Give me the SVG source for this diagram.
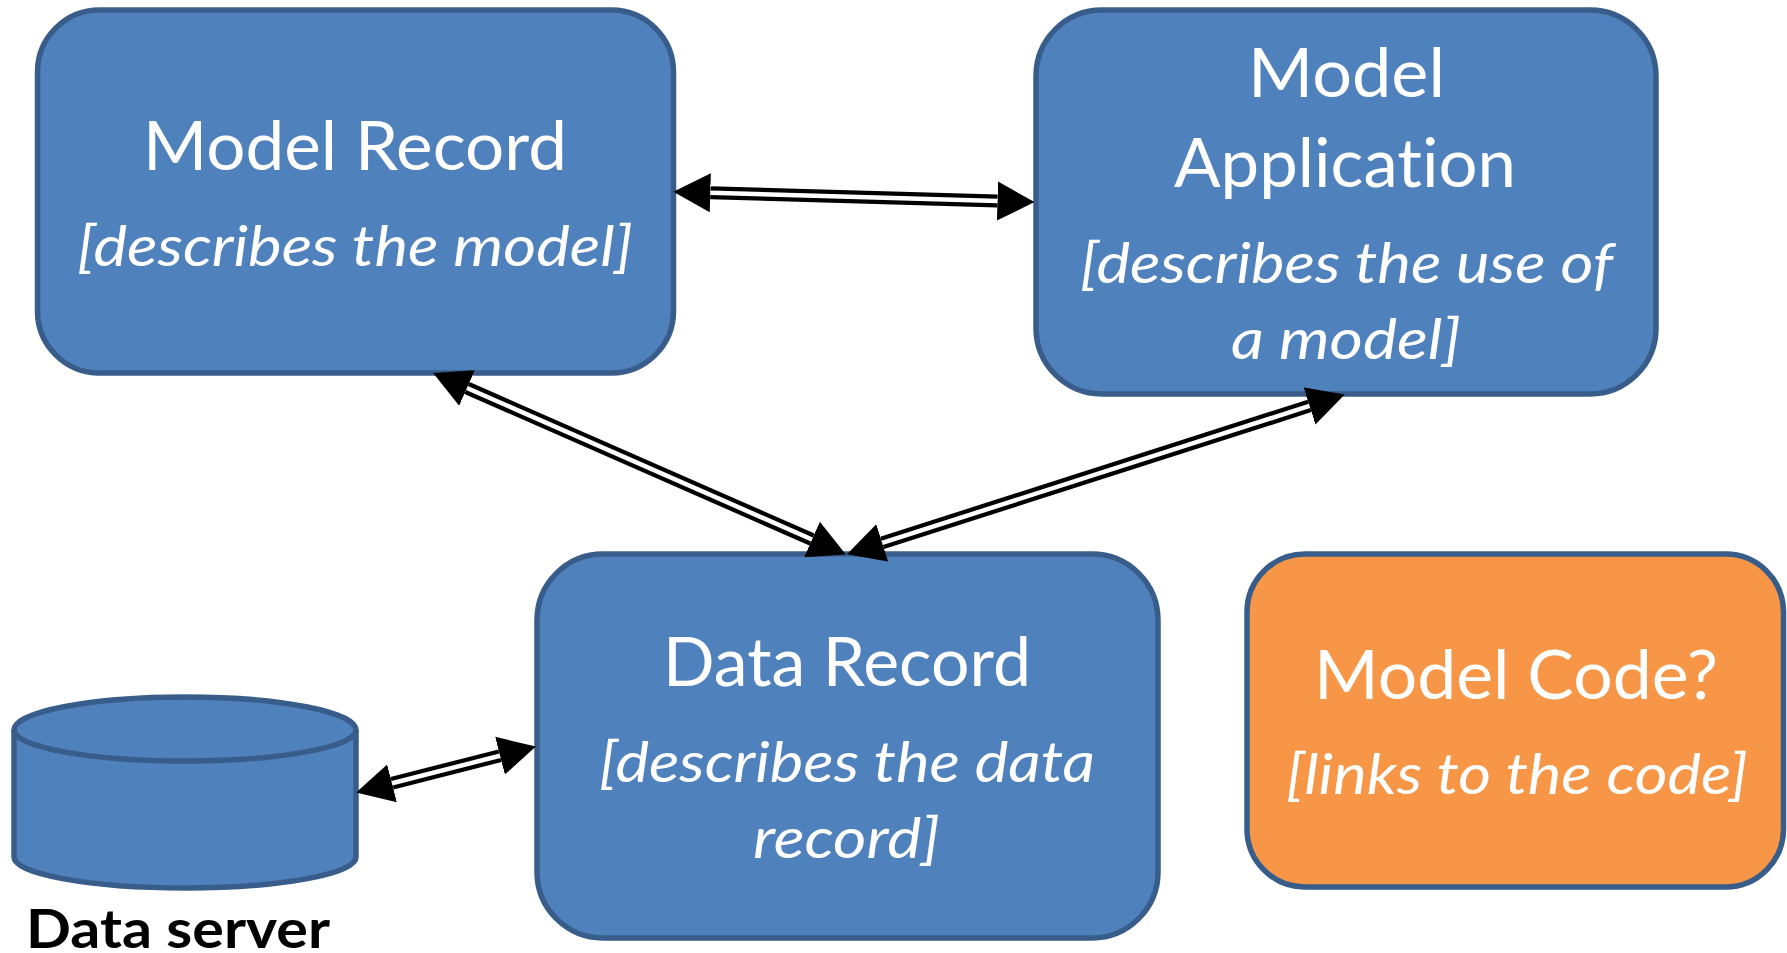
<svg xmlns="http://www.w3.org/2000/svg" width="1787" height="953" viewBox="0 0 1787 953">
<style>
.box{fill:#4F81BD;stroke:#385D8A;stroke-width:5.5}
.orange{fill:#F79646}
text{font-family:"Lato","Open Sans","Liberation Sans",sans-serif;fill:#fff;text-anchor:start;font-variant-ligatures:none}
.t{font-size:67px}
.s{font-size:57px;font-style:italic}
.b{font-size:54px;font-weight:700;fill:#000}
.o{fill:none;stroke:#000;stroke-width:13;marker-start:url(#h);marker-end:url(#h)}
.i{fill:none;stroke:#fff;stroke-width:4.5}
</style>
<defs>
<marker id="h" markerUnits="userSpaceOnUse" markerWidth="40" markerHeight="40" viewBox="0 -20 40 40" refX="0" refY="0" orient="auto-start-reverse"><path d="M0,-19.5L37,0L0,19.5Z" fill="#000"/></marker>
</defs>
<rect width="1787" height="953" fill="#fff"/>
<g id="model-record">
<rect class="box" x="37.5" y="10" width="636" height="363" rx="62" ry="62"/>
<text class="t" x="143" y="170" textLength="424" lengthAdjust="spacingAndGlyphs">Model Record</text>
<text class="s" x="77" y="266" textLength="556" lengthAdjust="spacingAndGlyphs">[describes the model]</text>
</g>
<g id="model-application">
<rect class="box" x="1036" y="10" width="620" height="384" rx="66" ry="66"/>
<text class="t" x="1248" y="97" textLength="197" lengthAdjust="spacingAndGlyphs">Model</text>
<text class="t" x="1174" y="187" textLength="342" lengthAdjust="spacingAndGlyphs">Application</text>
<text class="s" x="1080" y="283" textLength="533" lengthAdjust="spacingAndGlyphs">[describes the use of</text>
<text class="s" x="1231" y="359" textLength="230" lengthAdjust="spacingAndGlyphs">a model]</text>
</g>
<g id="data-record">
<rect class="box" x="537" y="554" width="621" height="384" rx="66" ry="66"/>
<text class="t" x="663" y="686" textLength="368" lengthAdjust="spacingAndGlyphs">Data Record</text>
<text class="s" x="599" y="782" textLength="496" lengthAdjust="spacingAndGlyphs">[describes the data</text>
<text class="s" x="753" y="858" textLength="187" lengthAdjust="spacingAndGlyphs">record]</text>
</g>
<g id="model-code">
<rect class="box orange" x="1247" y="554" width="536.5" height="333" rx="58" ry="58"/>
<text class="t" x="1314" y="699" textLength="404" lengthAdjust="spacingAndGlyphs">Model Code?</text>
<text class="s" x="1286" y="794" textLength="462" lengthAdjust="spacingAndGlyphs">[links to the code]</text>
</g>
<g id="data-server">
<path class="box" d="M14,730C14,712 90,697 185,697C280,697 356,712 356,730V857C356,874 280,888 185,888C90,888 14,874 14,857Z"/>
<path class="box" style="fill:none" d="M14,730C14,747 90,761 185,761C280,761 356,747 356,730"/>
<text class="b" x="26" y="948" textLength="304" lengthAdjust="spacingAndGlyphs">Data server</text>
</g>
<g id="connectors">
<line class="o" x1="710.3" y1="192.8" x2="997.5" y2="201"/>
<line class="i" x1="710.3" y1="192.8" x2="997.5" y2="201"/>
<line class="o" x1="467" y1="388" x2="812" y2="539.5"/>
<line class="i" x1="467" y1="388" x2="812" y2="539.5"/>
<line class="o" x1="882.2" y1="542.9" x2="1309.5" y2="405.9"/>
<line class="i" x1="882.2" y1="542.9" x2="1309.5" y2="405.9"/>
<line class="o" x1="392" y1="783.3" x2="500" y2="755.7"/>
<line class="i" x1="392" y1="783.3" x2="500" y2="755.7"/>
</g>
</svg>
